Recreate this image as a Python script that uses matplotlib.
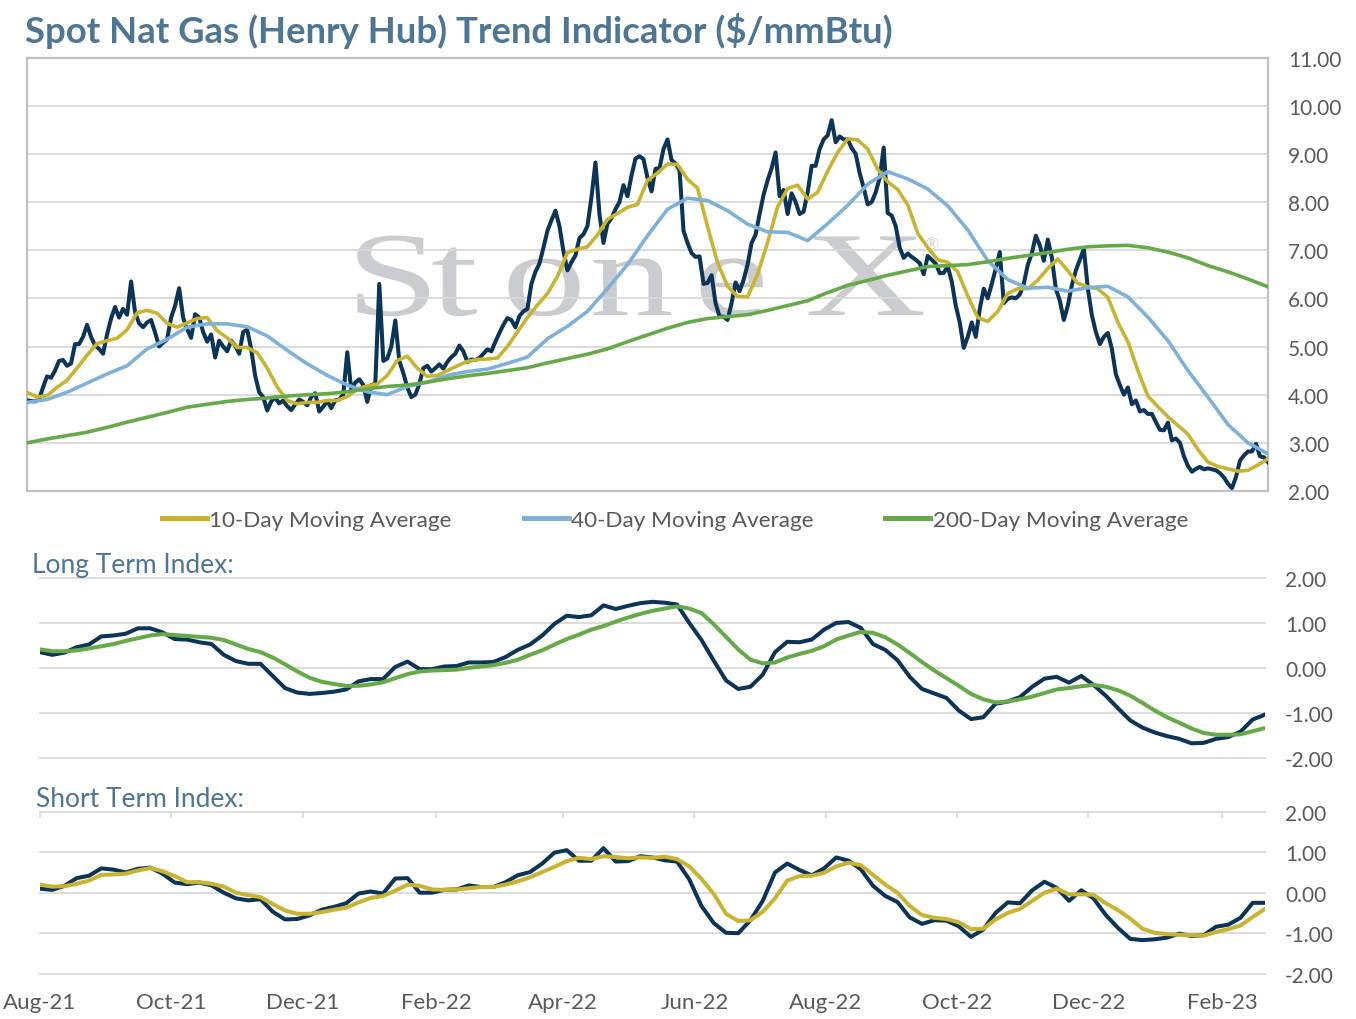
import numpy as np
import pandas as pd
import matplotlib
matplotlib.use("Agg")
import matplotlib.pyplot as plt
import matplotlib.dates as mdates
import matplotlib.transforms as mtransforms
from matplotlib.ticker import FormatStrFormatter
from matplotlib.textpath import TextPath
from matplotlib.patches import PathPatch
from matplotlib.font_manager import FontProperties

# --- dados (Aug-21 .. Feb-23) ---
START, END = "2021-08-01", "2023-02-21"

spot_price = [
    3.88, 3.87, 3.86, 3.9, 4.15, 4.38, 4.35, 4.5, 4.7, 4.72,
    4.6, 4.65, 5.05, 5.05, 5.2, 5.45, 5.2, 5.02, 4.95, 4.85,
    5.25, 5.58, 5.82, 5.6, 5.78, 5.66, 6.35, 5.71, 5.48, 5.4,
    5.5, 5.55, 5.29, 5.0, 5.08, 5.15, 5.6, 5.85, 6.21, 5.6,
    5.36, 5.18, 5.67, 5.6, 5.3, 5.1, 5.25, 4.77, 5.12, 5.0,
    4.9, 5.12, 5.02, 4.85, 5.3, 5.35, 4.95, 4.39, 4.05, 3.95,
    3.67, 3.86, 3.94, 3.82, 3.88, 3.76, 3.68, 3.8, 3.9, 3.85,
    3.78, 3.95, 4.03, 3.65, 3.75, 3.87, 3.72, 3.88, 3.9, 4.0,
    4.88, 4.1, 4.25, 4.32, 4.2, 3.85, 4.2, 4.22, 6.3, 4.7,
    4.75, 5.0, 5.54, 4.7, 4.45, 4.15, 3.95, 4.0, 4.22, 4.55,
    4.6, 4.48, 4.55, 4.63, 4.54, 4.68, 4.78, 4.85, 5.02, 4.9,
    4.68, 4.73, 4.72, 4.76, 4.85, 4.94, 4.9, 5.1, 5.28, 5.45,
    5.59, 5.55, 5.4, 5.63, 5.73, 5.78, 6.3, 6.55, 6.72, 7.05,
    7.4, 7.62, 7.82, 7.5, 6.98, 6.58, 6.75, 6.89, 7.25, 7.33,
    7.5, 8.1, 8.82, 7.75, 7.15, 7.55, 7.66, 7.85, 8.0, 8.35,
    8.12, 8.55, 8.9, 8.95, 8.89, 8.5, 8.22, 8.69, 8.7, 9.1,
    9.3, 8.87, 8.8, 8.66, 7.4, 7.15, 6.94, 6.86, 6.87, 6.3,
    6.32, 6.48, 5.9, 5.62, 5.62, 5.55, 5.9, 6.33, 6.15, 6.38,
    6.7, 7.15, 7.32, 7.75, 8.15, 8.45, 8.7, 9.03, 8.12, 8.25,
    7.75, 8.18, 8.0, 7.75, 7.8, 8.2, 8.75, 8.75, 9.1, 9.3,
    9.38, 9.7, 9.24, 9.36, 9.3, 9.3, 9.12, 9.0, 8.6, 8.3,
    7.95, 8.0, 8.2, 8.5, 9.13, 7.77, 7.72, 7.5, 7.05, 6.84,
    6.93, 6.86, 6.8, 6.73, 6.5, 6.88, 6.8, 6.72, 6.52, 6.53,
    6.66, 6.35, 5.85, 5.5, 4.97, 5.2, 5.5, 5.2, 5.78, 6.2,
    6.0, 6.3, 6.62, 6.96, 5.9, 5.99, 6.02, 6.0, 6.08, 6.3,
    6.7, 6.93, 7.3, 7.1, 6.78, 7.22, 6.85, 6.2, 5.95, 5.55,
    5.85, 6.27, 6.58, 6.8, 7.03, 6.2, 5.65, 5.3, 5.05, 5.2,
    5.28, 4.95, 4.42, 4.2, 4.0, 4.15, 3.8, 3.88, 3.65, 3.68,
    3.6, 3.6, 3.43, 3.27, 3.26, 3.42, 3.05, 3.09, 3.0, 2.72,
    2.52, 2.4, 2.46, 2.5, 2.45, 2.47, 2.45, 2.43, 2.37, 2.28,
    2.15, 2.06, 2.29, 2.63, 2.74, 2.82, 2.82, 2.98, 2.72, 2.7, 2.6,
]

ma_10 = [
    4.05, 3.95, 3.98, 4.15, 4.3, 4.55, 4.82, 5.06, 5.12, 5.17,
    5.35, 5.7, 5.75, 5.69, 5.48, 5.4, 5.49, 5.58, 5.6, 5.33,
    5.18, 4.98, 4.98, 4.87, 4.55, 4.16, 3.88, 3.81, 3.84, 3.84,
    3.88, 3.88, 3.96, 4.12, 4.18, 4.22, 4.4, 4.71, 4.8, 4.55,
    4.38, 4.4, 4.5, 4.6, 4.69, 4.73, 4.74, 4.76, 5.0, 5.3,
    5.6, 5.86, 6.1, 6.45, 6.95, 7.02, 7.07, 7.32, 7.64, 7.76,
    7.89, 7.95, 8.45, 8.6, 8.79, 8.78, 8.47, 8.29, 7.49, 6.74,
    6.25, 6.04, 6.03, 6.5, 7.16, 7.9, 8.28, 8.35, 8.06, 8.2,
    8.64, 9.03, 9.31, 9.29, 9.1, 8.68, 8.42, 8.26, 7.94, 7.35,
    7.05, 6.8, 6.75, 6.55, 6.05, 5.6, 5.52, 5.73, 6.1, 6.2,
    6.2, 6.38, 6.62, 6.82, 6.57, 6.31, 6.24, 6.2, 6.02, 5.5,
    5.1, 4.5, 3.97, 3.75, 3.54, 3.36, 3.18, 2.86, 2.6, 2.51,
    2.46, 2.41, 2.43, 2.54, 2.67,
]

ma_40 = [
    3.84, 3.9, 4.05, 4.24, 4.43, 4.6, 4.95, 5.15, 5.4, 5.47,
    5.47, 5.41, 5.22, 4.92, 4.64, 4.4, 4.2, 4.06, 4.0, 4.17,
    4.26, 4.4, 4.48, 4.53, 4.65, 4.78, 5.16, 5.42, 5.73, 6.2,
    6.7, 7.3, 7.85, 8.08, 8.03, 7.82, 7.54, 7.38, 7.37, 7.2,
    7.55, 7.93, 8.37, 8.63, 8.48, 8.27, 7.92, 7.42, 6.78, 6.39,
    6.21, 6.23, 6.15, 6.22, 6.25, 6.03, 5.61, 5.12, 4.5, 3.95,
    3.38, 3.0, 2.77,
]

ma_200 = [
    3.0, 3.08, 3.15, 3.22, 3.32, 3.43, 3.53, 3.63, 3.74, 3.8,
    3.86, 3.9, 3.93, 3.97, 4.0, 4.02, 4.06, 4.12, 4.17, 4.2,
    4.26, 4.33, 4.39, 4.44, 4.5, 4.56, 4.66, 4.75, 4.84, 4.95,
    5.1, 5.24, 5.38, 5.5, 5.58, 5.62, 5.66, 5.75, 5.85, 5.95,
    6.12, 6.27, 6.37, 6.48, 6.57, 6.66, 6.68, 6.7, 6.76, 6.83,
    6.89, 6.95, 7.02, 7.07, 7.09, 7.1, 7.05, 6.96, 6.84, 6.68,
    6.55, 6.4, 6.24,
]

long_idx = [
    0.35, 0.29, 0.34, 0.46, 0.52, 0.7, 0.72, 0.76, 0.88, 0.88,
    0.79, 0.64, 0.63, 0.57, 0.53, 0.29, 0.15, 0.09, 0.09, -0.18,
    -0.45, -0.55, -0.58, -0.56, -0.53, -0.48, -0.3, -0.25, -0.25, 0.02,
    0.14, -0.03, -0.03, 0.03, 0.04, 0.12, 0.12, 0.13, 0.24, 0.4,
    0.52, 0.72, 0.98, 1.16, 1.13, 1.17, 1.39, 1.31, 1.38, 1.44,
    1.47, 1.45, 1.41, 1.0, 0.62, 0.16, -0.28, -0.47, -0.42, -0.15,
    0.35, 0.58, 0.57, 0.63, 0.85, 1.0, 1.02, 0.89, 0.53, 0.4,
    0.17, -0.2, -0.47, -0.57, -0.67, -0.95, -1.14, -1.1, -0.8, -0.75,
    -0.65, -0.42, -0.24, -0.2, -0.33, -0.18, -0.38, -0.62, -0.9, -1.17,
    -1.33, -1.44, -1.52, -1.58, -1.68, -1.67, -1.58, -1.54, -1.42, -1.15,
    -1.04,
]

long_ma = [
    0.41, 0.37, 0.37, 0.39, 0.43, 0.48, 0.53, 0.6, 0.66, 0.72,
    0.75, 0.73, 0.71, 0.69, 0.67, 0.62, 0.52, 0.42, 0.35, 0.23,
    0.08, -0.08, -0.22, -0.31, -0.36, -0.4, -0.4, -0.37, -0.32, -0.23,
    -0.14, -0.08, -0.06, -0.05, -0.04, 0.0, 0.03, 0.06, 0.11, 0.18,
    0.29, 0.39, 0.52, 0.64, 0.74, 0.85, 0.93, 1.03, 1.12, 1.2,
    1.27, 1.32, 1.37, 1.32, 1.22, 0.97, 0.69, 0.41, 0.18, 0.1,
    0.12, 0.23, 0.31, 0.38, 0.48, 0.63, 0.72, 0.8, 0.78, 0.68,
    0.52, 0.33, 0.13, -0.06, -0.23, -0.4, -0.58, -0.7, -0.77, -0.75,
    -0.7, -0.64, -0.56, -0.48, -0.45, -0.41, -0.38, -0.42, -0.5, -0.62,
    -0.78, -0.95, -1.1, -1.22, -1.35, -1.45, -1.49, -1.49, -1.48, -1.41,
    -1.34,
]

short_idx = [
    0.1, 0.07, 0.17, 0.36, 0.42, 0.6, 0.57, 0.5, 0.59, 0.62,
    0.47, 0.25, 0.21, 0.25, 0.18, 0.0, -0.14, -0.19, -0.16, -0.47,
    -0.66, -0.65, -0.56, -0.42, -0.35, -0.26, -0.02, 0.03, -0.02, 0.35,
    0.36, 0.0, 0.0, 0.07, 0.08, 0.18, 0.14, 0.14, 0.26, 0.43,
    0.51, 0.72, 0.99, 1.05, 0.79, 0.79, 1.1, 0.77, 0.78, 0.9,
    0.87, 0.8, 0.77, 0.33, -0.33, -0.75, -0.99, -1.0, -0.68, -0.2,
    0.5, 0.72, 0.56, 0.43, 0.6, 0.87, 0.79, 0.58, 0.17, -0.08,
    -0.23, -0.61, -0.77, -0.68, -0.69, -0.83, -1.09, -0.91, -0.5, -0.24,
    -0.26, 0.06, 0.27, 0.12, -0.2, 0.06, -0.14, -0.55, -0.87, -1.14,
    -1.17, -1.15, -1.11, -1.01, -1.07, -1.05, -0.84, -0.79, -0.62, -0.25,
    -0.25,
]

short_ma = [
    0.2, 0.15, 0.16, 0.22, 0.3, 0.44, 0.45, 0.47, 0.55, 0.61,
    0.53, 0.41, 0.26, 0.26, 0.22, 0.15, 0.0, -0.06, -0.11, -0.28,
    -0.44, -0.52, -0.52, -0.48, -0.42, -0.37, -0.24, -0.13, -0.08, 0.05,
    0.2, 0.17, 0.08, 0.07, 0.08, 0.11, 0.14, 0.14, 0.2, 0.28,
    0.38, 0.51, 0.64, 0.78, 0.86, 0.83, 0.9, 0.88, 0.85, 0.87,
    0.86, 0.89, 0.83, 0.65, 0.34, -0.03, -0.52, -0.7, -0.68, -0.47,
    -0.14, 0.3, 0.41, 0.42, 0.49, 0.65, 0.74, 0.68, 0.44, 0.2,
    0.0, -0.33, -0.55, -0.62, -0.65, -0.73, -0.9, -0.89, -0.66, -0.5,
    -0.4, -0.2, 0.0, 0.1, -0.04, -0.04, -0.05, -0.26, -0.43, -0.64,
    -0.89, -0.99, -1.02, -1.04, -1.05, -1.06, -0.97, -0.9, -0.81, -0.6,
    -0.4,
]

# --- estilo ---
NAVY = "#0C3457"
GOLD = "#C9B430"
SKY = "#7DB1DA"
GREEN = "#65AA47"
TITLE = "#4D7695"
TXT = "#595959"
GRID = "#D9D9D9"
FRAME = "#C0C0C0"
MARK = "#CBCCCF"

W, H = 1356, 1020
plt.rcParams["font.family"] = ["Lato", "DejaVu Sans"]


def dates_for(values):
    return pd.date_range(START, END, periods=len(values))


fig = plt.figure(figsize=(W / 100, H / 100), dpi=100)
px = mtransforms.Affine2D().scale(1 / W, -1 / H).translate(0, 1) + fig.transFigure


def px_axes(left, top, right, bottom):
    return fig.add_axes([left / W, 1 - bottom / H, (right - left) / W, (bottom - top) / H])


def right_labels(ax, lo, hi):
    ax.set_ylim(lo, hi)
    ax.set_yticks(np.arange(lo, hi + 1, 1))
    ax.yaxis.set_major_formatter(FormatStrFormatter("%.2f"))
    ax.yaxis.tick_right()
    ax.tick_params(axis="y", length=0, pad=14.5, labelsize=15, labelcolor=TXT)
    ax.set_xlim(pd.Timestamp(START), pd.Timestamp(END))


# --- painel de preço ---
ax = px_axes(27, 58.5, 1268, 492)
ax.plot(dates_for(spot_price), spot_price, color=NAVY, lw=2.9, zorder=3)
ax.plot(dates_for(ma_10), ma_10, color=GOLD, lw=2.6, zorder=4, label="10-Day Moving Average")
ax.plot(dates_for(ma_40), ma_40, color=SKY, lw=2.6, zorder=5, label="40-Day Moving Average")
ax.plot(dates_for(ma_200), ma_200, color=GREEN, lw=2.6, zorder=6, label="200-Day Moving Average")
right_labels(ax, 2, 11)
ax.set_xticks([])
for y in range(3, 11):
    ax.axhline(y, color=GRID, lw=1.3, zorder=1)
for sp in ax.spines.values():
    sp.set_color(FRAME)
    sp.set_linewidth(1.6)

# marca d'água (letras alargadas, atrás das linhas de grade)
serif = FontProperties(family="Liberation Serif")
for ch, left in [("S", 346), ("t", 431), ("o", 502), ("n", 590), ("e", 694), ("X", 805)]:
    tp = TextPath((0, 0), ch, size=120, prop=serif)
    tr = mtransforms.Affine2D().scale(1.4, -1).translate(left, 316) + px
    ax.add_patch(PathPatch(tp, transform=tr, facecolor=MARK, edgecolor="none",
                           zorder=0.5, clip_on=False))
ax.text(932, 245, "®", transform=px, ha="center", va="center", fontsize=12,
        family="Liberation Serif", color=MARK, zorder=0.5)

leg = fig.legend(loc="center", bbox_to_anchor=(675 / W, 1 - 521 / H), ncol=3, frameon=False,
                 fontsize=16.2, handlelength=2.0, handletextpad=0.1, columnspacing=3.2,
                 labelcolor=TXT)
for line in leg.get_lines():
    line.set_linewidth(3.6)

# --- índice de longo prazo ---
ax2 = px_axes(40, 579, 1265, 758.7)
ax2.plot(dates_for(long_idx), long_idx, color=NAVY, lw=2.9, zorder=3)
ax2.plot(dates_for(long_ma), long_ma, color=GREEN, lw=2.9, zorder=4)
right_labels(ax2, -2, 2)
ax2.set_xticks([])

# --- índice de curto prazo ---
ax3 = px_axes(40, 812.7, 1265, 974.7)
ax3.plot(dates_for(short_idx), short_idx, color=NAVY, lw=2.9, zorder=3)
ax3.plot(dates_for(short_ma), short_ma, color=GOLD, lw=2.9, zorder=4)
right_labels(ax3, -2, 2)
ax3.xaxis.set_major_locator(mdates.MonthLocator(bymonth=(2, 4, 6, 8, 10, 12)))
ax3.xaxis.set_major_formatter(mdates.DateFormatter("%b-%y"))
ax3.tick_params(axis="x", bottom=False, top=True, direction="in", length=4.5, width=1.2,
                color=GRID, labelbottom=True, labeltop=False, pad=13, labelsize=16,
                labelcolor=TXT)

for a in (ax2, ax3):
    for sp in a.spines.values():
        sp.set_visible(False)
    for y in range(-2, 3):
        a.axhline(y, color=GRID, lw=1.3, zorder=1, clip_on=False)

fig.text(25 / W, 1 - 31 / H, "Spot Nat Gas (Henry Hub) Trend Indicator (\\$/mmBtu)",
         fontsize=26.3, fontweight="bold", color=TITLE, va="center", ha="left")
fig.text(32 / W, 1 - 565 / H, "Long Term Index:", fontsize=19, color=TITLE, va="center")
fig.text(36 / W, 1 - 800 / H, "Short Term Index:", fontsize=19, color=TITLE, va="center")

fig.savefig("out.png", dpi=100)
